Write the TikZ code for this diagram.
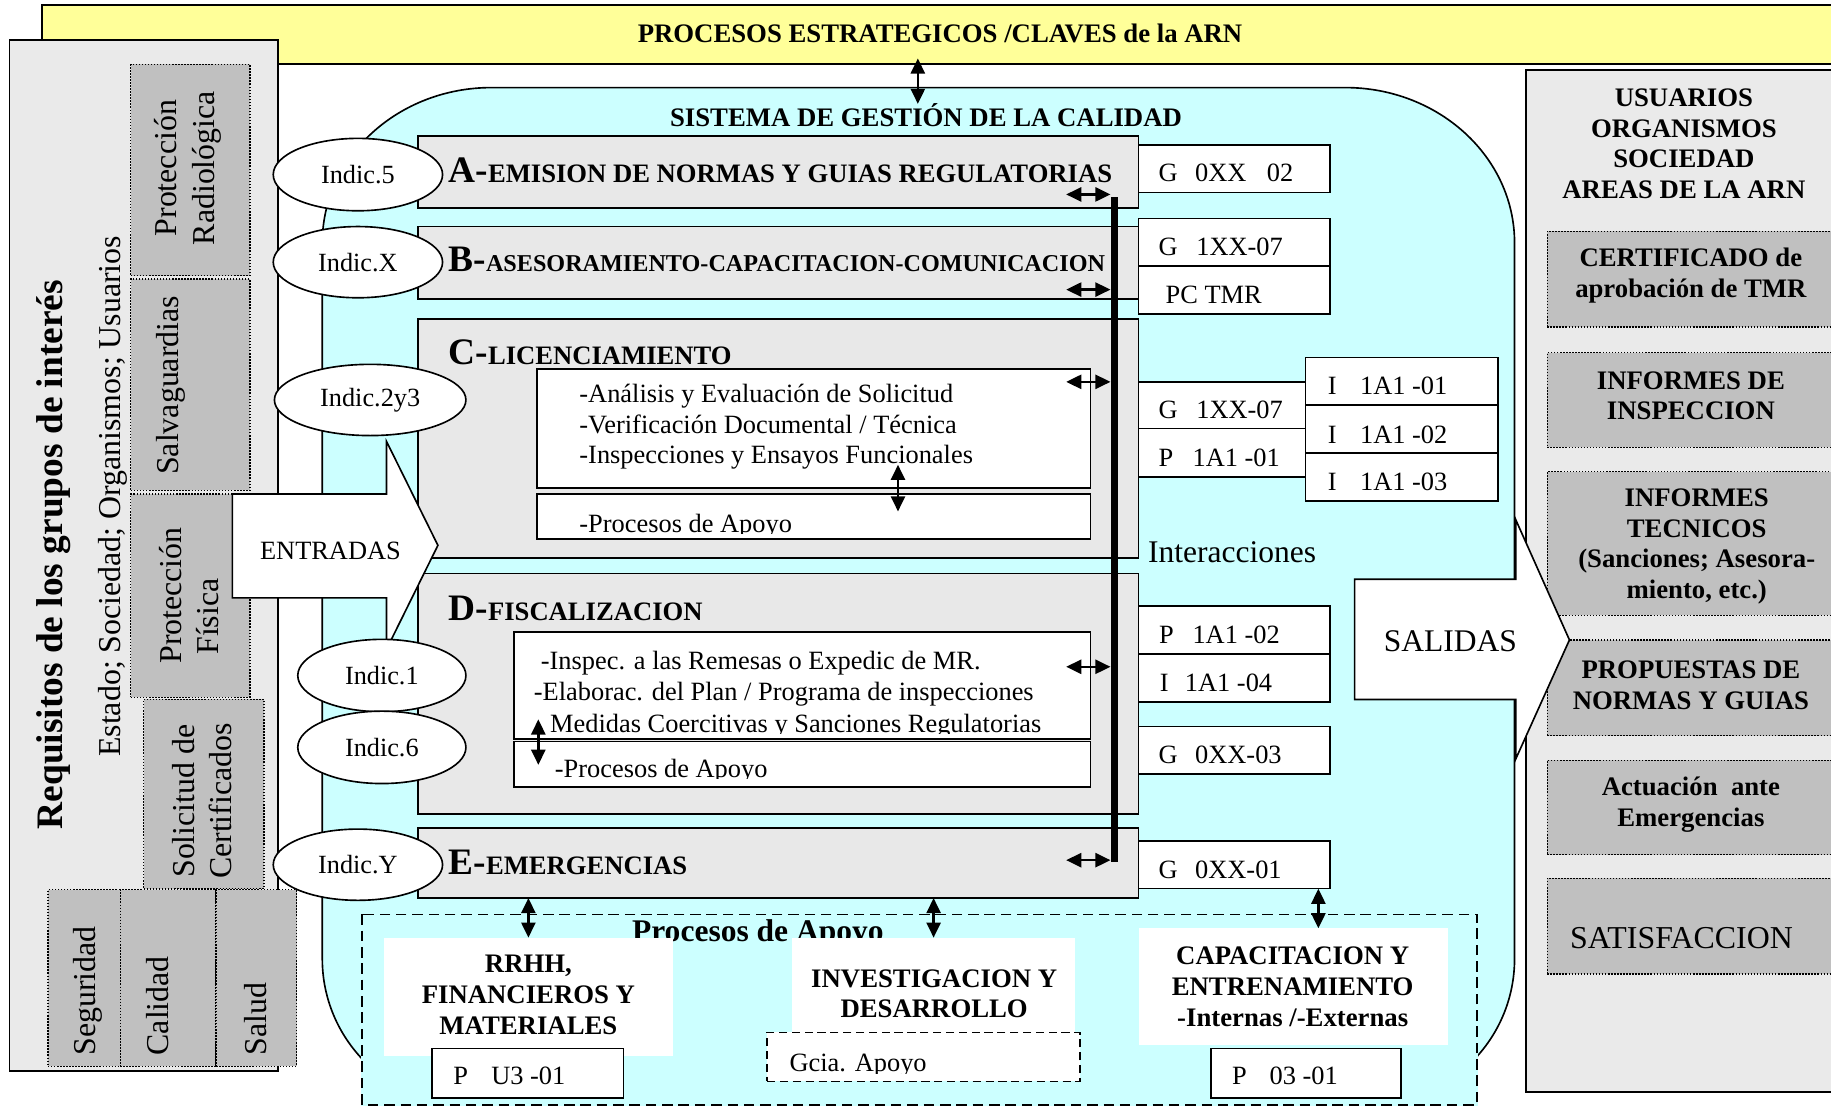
\documentclass[tikz,border=0pt]{standalone}
\usepackage{fontspec}
\setmainfont{Liberation Serif}
\usetikzlibrary{arrows.meta,fit,shapes.geometric}
\definecolor{cyanf}{HTML}{CCFFFF}
\definecolor{yel}{HTML}{FFFF99}
\definecolor{panelg}{HTML}{EAEAEA}
\definecolor{boxg}{HTML}{E8E8E8}
\definecolor{dotg}{HTML}{C0C0C0}
\newcommand\fsz[2]{\fontsize{#1}{#2}\selectfont}
\newcommand\tline[4]{\node[txt, anchor=base west] (#1) at (#2,#3) {#4};}
\tikzset{
  rectfit/.style={fit={#1}, inner sep=0pt, outer sep=0pt},
  panelbox/.style={draw, line width=1.4pt, fill=panelg},
  procbox/.style={draw, line width=1.4pt, fill=boxg},
  codebox/.style={draw, line width=1.4pt, fill=white},
  dotbox/.style={draw, line width=1.1pt, dash pattern=on 1.3pt off 1.3pt, fill=dotg},
  whitebox/.style={fill=white},
  txt/.style={font=\fsz{22.6}{26}, inner sep=0pt},
  btxt/.style={font=\bfseries\fsz{22.9}{26.3}, inner sep=0pt},
  rtxt/.style={rotate=90, font=\fsz{27.3}{32}, inner sep=0pt},
  dbl/.style={line width=2.2pt, {Triangle[length=13pt,width=12pt]}-{Triangle[length=13pt,width=12pt]}},
  indic/.style={draw, line width=1.4pt, fill=white, ellipse, inner sep=0pt, font=\fsz{22.5}{26}},
  arrowshape/.style={draw, line width=1.4pt, fill=white, line join=miter}
}
\begin{document}
\begin{tikzpicture}[x=1pt,y=-1pt]
\useasboundingbox (0,0) rectangle (1568,948);
\fill[white] (0,0) rectangle (1568,948);

% strategic band
\node[rectfit={(36,4.5) (1600,55)}, panelbox, fill=yel] (strat) {};
\node[btxt, anchor=base] (strattxt) at (805,36) {PROCESOS ESTRATEGICOS /CLAVES de la ARN};

% left panel
\node[rectfit={(8,34) (238,917)}, panelbox] (lp) {};
\node[rotate=90, font=\bfseries\fsz{32}{36}, inner sep=0pt] (req) at (46,475) {Requisitos de los grupos de interés};
\node[rtxt] (est) at (97,425) {Estado; Sociedad; Organismos; Usuarios};
\node[rectfit={(112,55) (214,236)}, dotbox] (pr) {};
\node[rtxt, align=center] (prt) at (161,144) {Protección\\Radiológica};
\node[rectfit={(112,239) (214,420)}, dotbox] (sg) {};
\node[rtxt] (sgt) at (146,330) {Salvaguardias};
\node[rectfit={(112,423) (214,597)}, dotbox] (pf) {};
\node[rtxt] (pft1) at (146,510) {Protección};
\node[rtxt] (pft2) at (178,528) {Física};
\node[rectfit={(123,599) (226,761)}, dotbox] (sc) {};
\node[rtxt, align=center, font=\fsz{27.3}{31}] (sct) at (173,686) {Solicitud de\\Certificados};
\node[rectfit={(41,762) (103,913)}, dotbox] (se) {};
\node[rectfit={(103,762) (185,913)}, dotbox] (ca) {};
\node[rectfit={(185,762) (254,913)}, dotbox] (sa) {};
\node[rtxt, anchor=west] (set) at (75,904) {Seguridad};
\node[rtxt, anchor=west] (cat) at (135,904) {Calidad};
\node[rtxt, anchor=west] (sat) at (219,904) {Salud};

% right panel
\node[rectfit={(1307,60) (1600,935)}, panelbox] (rp) {};
\node[btxt, align=center] (usr) at (1442,123) {USUARIOS\\ORGANISMOS\\SOCIEDAD\\AREAS DE LA ARN};
\node[rectfit={(1325,198) (1600,280)}, dotbox] (r1) {};
\node[btxt, align=center] (r1t) at (1448,236) {CERTIFICADO de\\aprobación de TMR};
\node[rectfit={(1325,302) (1600,383)}, dotbox] (r2) {};
\node[btxt, align=center] (r2t) at (1448,339) {INFORMES DE\\INSPECCION};
\node[rectfit={(1325,404) (1600,527)}, dotbox] (r3) {};
\node[btxt, align=center] (r3t) at (1453,468) {INFORMES\\TECNICOS\\(Sanciones; Asesora-\\miento, etc.)};
\node[rectfit={(1325,548) (1600,630)}, dotbox] (r4) {};
\node[btxt, align=center] (r4t) at (1448,587) {PROPUESTAS DE\\NORMAS Y GUIAS};
\node[rectfit={(1325,651) (1600,732)}, dotbox] (r5) {};
\node[btxt, align=center] (r5t) at (1448,689) {Actuación\ \ ante\\Emergencias};
\node[rectfit={(1325,752) (1600,834)}, dotbox] (r6) {};
\node[font=\fsz{27.3}{30}, inner sep=0pt] (r6t) at (1440,803) {SATISFACCION};

% quality system
\draw[line width=1.4pt, fill=cyanf]
  (276,208) arc[start angle=180, end angle=270, x radius=145, y radius=133]
  -- (1152,75) arc[start angle=270, end angle=360, x radius=145, y radius=133]
  -- (1297,821) arc[start angle=0, end angle=90, radius=125]
  -- (401,946) arc[start angle=90, end angle=180, radius=125]
  -- cycle;
\node[btxt, anchor=base] (sgc) at (793,108.5) {SISTEMA DE GESTIÓN DE LA CALIDAD};
\coordinate (ta) at (786,50);
\coordinate (tb) at (786,89);
\draw[dbl] (ta) -- (tb);

% process boxes
\node[rectfit={(358,116.5) (975,178)}, procbox] (A) {};
\node[rectfit={(358,194) (975,256)}, procbox] (B) {};
\node[rectfit={(358,273) (975,478)}, procbox] (C) {};
\node[rectfit={(358,491) (975,697)}, procbox] (D) {};
\node[rectfit={(358,709) (975,769)}, procbox] (E) {};
\node[anchor=base west, inner sep=0pt, font=\bfseries] (At) at (384,156) {\fsz{32}{32}A-\fsz{22.8}{26}EMISION DE NORMAS Y GUIAS REGULATORIAS};
\node[anchor=base west, inner sep=0pt, font=\bfseries] (Bt) at (384,232.5) {\fsz{32}{32}B-\fsz{20.7}{26}ASESORAMIENTO-CAPACITACION-COMUNICACION};
\node[anchor=base west, inner sep=0pt, font=\bfseries] (Ct) at (384,312) {\fsz{32}{32}C-\fsz{22.8}{26}LICENCIAMIENTO};
\node[anchor=base west, inner sep=0pt, font=\bfseries] (Dt) at (384,531) {\fsz{32}{32}D-\fsz{22.8}{26}FISCALIZACION};
\node[anchor=base west, inner sep=0pt, font=\bfseries] (Et) at (384,749) {\fsz{32}{32}E-\fsz{22.8}{26}EMERGENCIAS};

% inner boxes C
\node[rectfit={(460,316) (934,418)}, codebox] (c1) {};
\tline{c1a}{496}{345}{-Análisis y Evaluación de Solicitud}
\tline{c1b}{496}{371}{-Verificación Documental / Técnica}
\tline{c1c}{496}{397}{-Inspecciones y Ensayos Funcionales}
\node[rectfit={(460,423) (934,461.5)}, codebox] (c2) {};
\begin{scope}
\clip (460,423) rectangle (934,457);
\tline{c2t}{496}{456}{-Procesos de Apoyo}
\end{scope}

% inner boxes D
\node[rectfit={(440,541) (934,633)}, codebox] (d1) {};
\tline{d1a}{463}{573}{-Inspec. a las Remesas o Expedic de MR.}
\tline{d1b}{457}{600}{-Elaborac. del Plan / Programa de inspecciones}
\begin{scope}
\clip (440,541) rectangle (934,628);
\tline{d1c}{471}{627}{Medidas Coercitivas y Sanciones Regulatorias}
\end{scope}
\node[rectfit={(440,635) (934,674)}, codebox] (d2) {};
\begin{scope}
\clip (440,635) rectangle (934,667);
\tline{d2t}{475}{666}{-Procesos de Apoyo}
\end{scope}

% code boxes
\node[rectfit={(975,124) (1139,165)}, codebox] (gA) {};
\node[rectfit={(975,187) (1139,228)}, codebox] (gB1) {};
\node[rectfit={(975,228) (1139,269)}, codebox] (gB2) {};
\node[rectfit={(975,327) (1118,367)}, codebox] (gC1) {};
\node[rectfit={(975,367) (1118,408.5)}, codebox] (gC2) {};
\node[rectfit={(1118,306) (1283,347)}, codebox] (iC1) {};
\node[rectfit={(1118,347) (1283,388)}, codebox] (iC2) {};
\node[rectfit={(1118,388) (1283,429)}, codebox] (iC3) {};
\node[rectfit={(975,519) (1139,560)}, codebox] (gD1) {};
\node[rectfit={(975,560) (1139,601)}, codebox] (gD2) {};
\node[rectfit={(975,622) (1139,663)}, codebox] (gD3) {};
\node[rectfit={(975,720) (1139,761)}, codebox] (gE) {};
\tline{gAt}{992}{155}{G\hspace{15pt}0XX\hspace{17.5pt}02}
\tline{gB1t}{992}{219}{G\hspace{16pt}1XX-07}
\tline{gB2t}{998}{259.5}{PC TMR}
\tline{gC1t}{992}{358.5}{G\hspace{16pt}1XX-07}
\tline{gC2t}{992}{399.5}{P\hspace{16.5pt}1A1 -01}
\tline{iC1t}{1137}{338}{I\hspace{20pt}1A1 -01}
\tline{iC2t}{1137}{379.5}{I\hspace{20pt}1A1 -02}
\tline{iC3t}{1137}{420}{I\hspace{20pt}1A1 -03}
\tline{gD1t}{992.5}{551}{P\hspace{16pt}1A1 -02}
\tline{gD2t}{993}{592}{I\hspace{14pt}1A1 -04}
\tline{gD3t}{992}{654}{G\hspace{15pt}0XX-03}
\tline{gEt}{992}{752}{G\hspace{15pt}0XX-01}
\node[font=\fsz{27}{30}, anchor=base west, inner sep=0pt] (inter) at (983,482) {Interacciones};

% support processes
\node[rectfit={(310,783) (1265,946)}, fill=cyanf, draw=cyanf, line width=1.6pt] (apo) {};
\draw[line width=1.4pt, dash pattern=on 9pt off 5pt] (apo.north west) rectangle (apo.south east);
\node[font=\bfseries\fsz{27}{30}, anchor=base, inner sep=0pt] (apot) at (649,806) {Procesos de Apoyo};
\node[rectfit={(329,803) (576,904)}, whitebox] (rrhh) {};
\node[btxt, align=center] (rrhht) at (452.5,852) {RRHH,\\FINANCIEROS Y\\MATERIALES};
\node[rectfit={(370,898) (534,940)}, codebox] (pu3) {};
\tline{pu3t}{388}{929}{P\hspace{20pt}U3 -01}
\node[rectfit={(678,803) (921,884)}, whitebox] (inv) {};
\node[btxt, align=center] (invt) at (800,851) {INVESTIGACION Y\\DESARROLLO};
\node[rectfit={(657,884) (925,926)}, draw, line width=1.3pt, dash pattern=on 7pt off 4pt, fill=white] (gcia) {};
\begin{scope}
\clip (657,884) rectangle (925,919);
\tline{gciat}{676}{918}{Gcia. Apoyo}
\end{scope}
\node[rectfit={(975,795) (1240,895)}, whitebox] (cap) {};
\node[btxt, align=center] (capt) at (1107,845) {CAPACITACION Y\\ENTRENAMIENTO\\-Internas /-Externas};
\node[rectfit={(1037,898) (1200,940)}, codebox] (p03) {};
\tline{p03t}{1055}{929}{P\hspace{19.5pt}03 -01}

\draw[dbl] (E.south -| rrhh.north) -- (rrhh.north);
\draw[dbl] (E.south -| inv.north) -- (inv.north);
\coordinate (v3) at (1129,761);
\draw[dbl] (v3) -- (v3 |- cap.north);

% interaction bar
\node[rectfit={(951,168.5) (957,738)}, fill=black] (bar) {};
\coordinate (ha) at (913,166.5);
\coordinate (hb) at (913,248);
\coordinate (hc) at (913,327);
\coordinate (hd) at (913,571);
\coordinate (he) at (913,736.6);
\draw[dbl] (ha) -- (ha -| bar.west);
\draw[dbl] (hb) -- (hb -| bar.west);
\draw[dbl] (hc) -- (hc -| bar.west);
\draw[dbl] (hd) -- (hd -| bar.west);
\draw[dbl] (he) -- (he -| bar.west);
\coordinate (vc1) at (769,398);
\coordinate (vc2) at (769,438);
\draw[dbl] (vc1) -- (vc2);
\coordinate (vd1) at (461,616);
\coordinate (vd2) at (461,655);
\draw[dbl] (vd1) -- (vd2);

% ENTRADAS / SALIDAS
\draw[arrowshape] (199,423) -- (331,423) -- (331,378) -- (375,467) -- (331,556) -- (331,512) -- (199,512) -- cycle;
\node[txt] (entt) at (283,472) {ENTRADAS};
\draw[arrowshape] (1160,496) -- (1298,496) -- (1298,445) -- (1344,548) -- (1298,650) -- (1298,599) -- (1160,599) -- cycle;
\node[font=\fsz{27}{30}, inner sep=0pt] (salt) at (1242,549) {SALIDAS};

% indicators
\node[indic, minimum width=145, minimum height=62] (i5) at (306.5,149.5) {Indic.5\hspace{12pt}};
\node[indic, minimum width=145, minimum height=61] (ix) at (306.5,224.5) {Indic.X\hspace{8pt}};
\node[indic, minimum width=164, minimum height=61] (i23) at (317,342.5) {Indic.2y3};
\node[indic, minimum width=144, minimum height=62] (i1) at (327,578.5) {Indic.1\hspace{12pt}};
\node[indic, minimum width=144, minimum height=62] (i6) at (327,640) {Indic.6\hspace{12pt}};
\node[indic, minimum width=145, minimum height=61] (iy) at (306.5,740.5) {Indic.Y\hspace{8pt}};
\end{tikzpicture}
\end{document}
